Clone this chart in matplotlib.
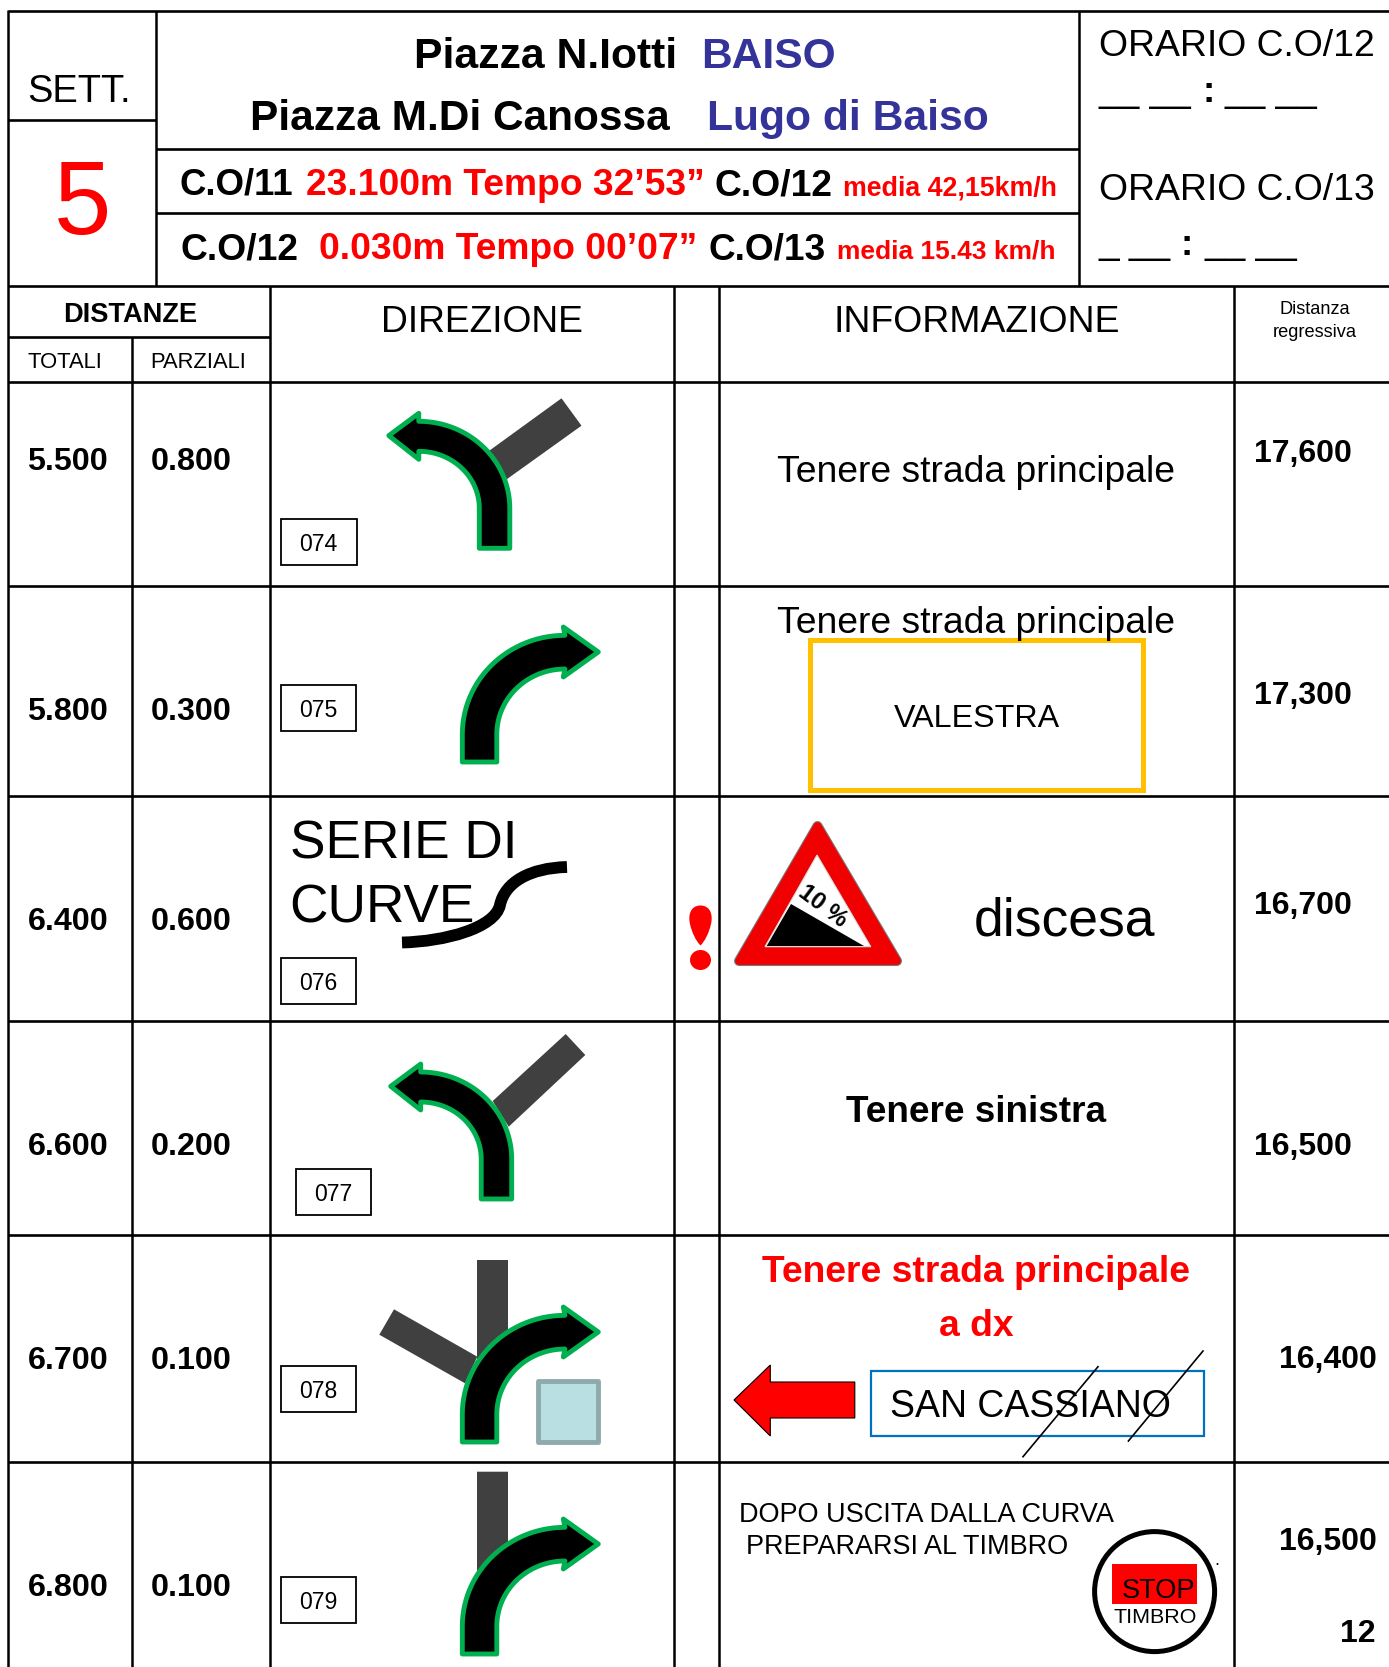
import matplotlib
matplotlib.use("Agg")
import matplotlib.pyplot as plt
from matplotlib.patches import PathPatch, Polygon, Rectangle, Ellipse
from matplotlib.path import Path
import numpy as np

plt.rcParams['font.family'] = ['Liberation Sans', 'DejaVu Sans']

# ---- content ----
totali = ["5.500", "5.800", "6.400", "6.600", "6.700", "6.800"]
parziali = ["0.800", "0.300", "0.600", "0.200", "0.100", "0.100"]
regressiva = ["17,600", "17,300", "16,700", "16,500", "16,400", "16,500"]
codici = ["074", "075", "076", "077", "078", "079"]
headers = ["DIREZIONE", "INFORMAZIONE"]
settore = "5"

# ---- page ----
W, H = 1389, 1667
fig = plt.figure(figsize=(W / 100, H / 100), dpi=100, facecolor='white')
ax = fig.add_axes([0, 0, 1, 1])
ax.set_xlim(0, W)
ax.set_ylim(H, 0)
ax.axis('off')

RED = '#FF0000'
BLUE = '#333399'
GREEN = '#00B050'
ROAD = '#404040'


def T(x, y, s, px, color='black', weight='normal', ha='left', rot=0, z=10):
    """y is the middle of the capital letters, px the font size in pixels."""
    if rot:
        return ax.text(x, y, s, fontsize=px * 0.72, color=color, fontweight=weight,
                       ha='center', va='center', rotation=rot, rotation_mode='anchor', zorder=z)
    return ax.text(x, y + 0.355 * px, s, fontsize=px * 0.72, color=color, fontweight=weight,
                   ha=ha, va='baseline', zorder=z)


def H_(y, x0=8, x1=W):
    ax.plot([x0, x1], [y, y], color='black', lw=1.9, solid_capstyle='butt', zorder=5)


def V_(x, y0, y1=H):
    ax.plot([x, x], [y0, y1], color='black', lw=1.8, solid_capstyle='butt', zorder=5)


# ---- grid ----
row_lines = [382, 586, 796, 1021, 1235, 1462]
H_(11)
H_(119.5, 8, 156)
H_(149, 156, 1079)
H_(213, 156, 1079)
H_(286)
H_(337, 8, 270)
for y in row_lines:
    H_(y)
V_(8, 10)
V_(156, 11, 286)
V_(1079, 11, 286)
V_(132, 337)
for x in [270, 674, 719, 1233.5]:
    V_(x, 286)

# ---- header ----
T(79, 89, "SETT.", 38, ha='center')
T(82.5, 197, settore, 103, color=RED, ha='center')
T(414.5, 53, "Piazza N.Iotti", 42.6, weight='bold')
T(701, 53, "BAISO", 42.5, weight='bold', color=BLUE)
T(250, 115, "Piazza M.Di Canossa", 42.4, weight='bold')
T(707, 115, "Lugo di Baiso", 42.6, weight='bold', color=BLUE)

T(179.7, 182, "C.O/11", 36.6, weight='bold')
T(306, 182, "23.100m Tempo 32’53”", 37.2, weight='bold', color=RED)
T(714, 182, "C.O/12", 37.2, weight='bold')
T(843, 186, "media 42,15km/h", 26.7, weight='bold', color=RED)
T(181, 246, "C.O/12", 37.2, weight='bold')
T(319, 246, "0.030m Tempo 00’07”", 37.2, weight='bold', color=RED)
T(708, 246, "C.O/13", 37, weight='bold')
T(837, 249, "media 15.43 km/h", 26.4, weight='bold', color=RED)

T(1099, 43, "ORARIO C.O/12", 37.4)
ax.text(1099, 102, "__ __", fontsize=37 * .72, va='baseline', zorder=10)
ax.text(1202, 102, ":", fontsize=37 * .72, fontweight='bold', va='baseline', zorder=10)
ax.text(1225, 102, "__ __", fontsize=37 * .72, va='baseline', zorder=10)
T(1099, 187, "ORARIO C.O/13", 37.4)
ax.text(1099, 254, "_ __", fontsize=37 * .72, va='baseline', zorder=10)
ax.text(1180, 255, ":", fontsize=37 * .72, fontweight='bold', va='baseline', zorder=10)
ax.text(1204, 254, "__ __", fontsize=37 * .72, va='baseline', zorder=10)

T(130, 312, "DISTANZE", 27.3, weight='bold', ha='center')
T(65, 360, "TOTALI", 22, ha='center')
T(198, 360, "PARZIALI", 22, ha='center')
T(481.5, 318.5, headers[0], 37.2, ha='center')
T(976.5, 318.5, headers[1], 37.4, ha='center')
T(1315, 308, "Distanza", 18.2, ha='center')
T(1315, 331, "regressiva", 18.3, ha='center')

# ---- distance columns ----
row_y = [459, 709, 918.7, 1144, 1357.7, 1584.7]
reg_y = [450.5, 693, 902.5, 1143.5, 1357, 1539]
reg_x = [1254, 1254, 1254, 1254, 1279, 1279]
for a, b, c, y, ry, rx in zip(totali, parziali, regressiva, row_y, reg_y, reg_x):
    T(27.5, y, a, 32.3, weight='bold')
    T(151, y, b, 32.3, weight='bold')
    T(rx, ry, c, 32, weight='bold')
T(1376, 1631, "12", 32, weight='bold', ha='right')

# ---- code boxes ----
boxes = [(281, 519), (280.5, 685), (280.5, 958), (295.7, 1169.3), (280.5, 1366), (280.5, 1577)]
for code, (bx, by) in zip(codici, boxes):
    ax.add_patch(Rectangle((bx, by), 75.7, 46, fc='white', ec='black', lw=1.3, zorder=6))
    T(bx + 37.5, by + 24, code, 23, ha='center')


# ---- road arrows ----
def arc(cx, cy, rx, ry, a0, a1, n=30):
    t = np.radians(np.linspace(a0, a1, n))
    return np.column_stack([cx + rx * np.cos(t), cy + ry * np.sin(t)])


def arrow(x0, y0, mirror=False, base=34.5, cx=102.7, start=-27.7, top_o=-126.7,
          top_i=-93, hx=101, ht=-135, tip=(136, -110), hb=-85):
    outer = arc(cx, start, cx, start - top_o, 180, 270)
    inner = arc(cx, start, cx - base, start - top_i, 270, 180)
    pts = np.vstack([[(0, 0)], outer, [(hx, ht), tip, (hx, hb)], inner, [(base, 0)]])
    if mirror:
        pts[:, 0] *= -1
    pts = pts + [x0, y0]
    ax.add_patch(Polygon(pts, closed=True, fc='black', ec=GREEN, lw=3.5, joinstyle='round', zorder=4))


LEFT = dict(mirror=True, base=30.5, cx=91, start=-40, top_o=-127, top_i=-97, hx=91,
            ht=-135, tip=(121, -112.7), hb=-89)


def road(points):
    ax.add_patch(Polygon(points, closed=True, fc=ROAD, ec='none', zorder=3))


road([(561.5, 398.3), (581.5, 425.7), (506.7, 479.3), (489.3, 450.7)])
arrow(509.8, 548.3, **LEFT)
arrow(462.3, 762)

road([(565.7, 1034), (585.3, 1055), (508.7, 1126.7), (492.7, 1101)])
arrow(511.7, 1199, **LEFT)

road([(477, 1260), (508, 1260), (508, 1340), (477, 1365)])
road([(394, 1309.3), (379.3, 1334.7), (465, 1383.3), (477.3, 1356.7)])
arrow(462.3, 1442)
ax.add_patch(Rectangle((537.5, 1380.5), 60.5, 61.5, fc='#B9DFE2', ec='#8FA9AD', lw=3.5, joinstyle='round', zorder=4))

road([(477, 1471.7), (508, 1471.7), (508, 1545), (477, 1575)])
arrow(462.3, 1654)

# ---- row 3 ----
T(289.5, 839.5, "SERIE DI", 53.2)
T(289.5, 903.5, "CURVE", 53.2)
ax.add_patch(PathPatch(Path([(402, 942.5), (445, 941.5), (495, 928), (500, 905), (505, 882), (530, 868), (567, 867)],
                            [Path.MOVETO, Path.CURVE4, Path.CURVE4, Path.CURVE4, Path.CURVE4, Path.CURVE4, Path.CURVE4]),
                       fc='none', ec='black', lw=8.5, capstyle='butt', zorder=11))

# exclamation mark
ax.add_patch(PathPatch(Path([(700.5, 905.5), (690, 905.5), (688, 916), (690, 924), (692, 933), (696, 941), (700.5, 945.5),
                             (705, 941), (709, 933), (711, 924), (713, 916), (711, 905.5), (700.5, 905.5)],
                            [Path.MOVETO] + [Path.CURVE4] * 12), fc=RED, ec='none', zorder=4))
ax.add_patch(Ellipse((700.5, 960), 21, 20, fc=RED, ec='none', zorder=4))

# warning sign
sign = [(817.5, 826), (897, 961), (739, 961)]
ax.add_patch(Polygon(sign, closed=True, fc='#F00000', ec='#777777', lw=7.2, joinstyle='round', zorder=3))
ax.add_patch(Polygon(sign, closed=True, fc='#F00000', ec='#F00000', lw=5.6, joinstyle='round', zorder=4))
ax.add_patch(Polygon([(817, 855), (870.8, 946.7), (765, 946.7)], closed=True, fc='white', ec='#DDDDDD', lw=0.8, zorder=5))
ax.add_patch(Polygon([(791, 904), (864, 946), (766.7, 946)], closed=True, fc='black', ec='none', zorder=6))
T(823, 906.5, "10 %", 24, weight='bold', rot=-37)
T(1064, 917, "discesa", 53.5, ha='center')

# ---- information column ----
T(976, 468.7, "Tenere strada principale", 37.3, ha='center')
T(976, 619.5, "Tenere strada principale", 37.3, ha='center')
ax.add_patch(Rectangle((810, 640), 333, 150, fc='none', ec='#FFC000', lw=3.6, zorder=6))
T(976.5, 715.5, "VALESTRA", 32.3, ha='center')
T(976.5, 1108.5, "Tenere sinistra", 36.9, weight='bold', ha='center')
T(976.5, 1269, "Tenere strada principale", 37.2, weight='bold', color=RED, ha='center')
T(976.5, 1323, "a dx", 37.2, weight='bold', color=RED, ha='center')

ax.add_patch(Polygon([(734, 1400), (770.3, 1365), (770.3, 1382), (854.8, 1382), (854.8, 1418),
                      (770.3, 1418), (770.3, 1436)], closed=True, fc=RED, ec='black', lw=0.8, zorder=6))
ax.add_patch(Rectangle((871, 1370.7), 333, 65, fc='none', ec='#0070C0', lw=1.6, zorder=6))
T(890.5, 1404, "SAN CASSIANO", 37.5)
ax.plot([1023, 1098], [1456.7, 1366.7], color='black', lw=1.2, zorder=11)
ax.plot([1128.4, 1203], [1441, 1351], color='black', lw=1.2, zorder=11)

T(739, 1512.5, "DOPO USCITA DALLA CURVA", 27.1)
T(746.5, 1544, "PREPARARSI AL TIMBRO", 27)
ax.add_patch(Rectangle((1112, 1564), 85, 40, fc=RED, ec='none', zorder=6))
ax.add_patch(Ellipse((1154.6, 1591.6), 120, 120, fc='none', ec='black', lw=3.6, zorder=7))
T(1159, 1588.5, "STOP", 27.2, ha='center')
T(1155, 1615, "TIMBRO", 21.5, ha='center')
ax.add_patch(Ellipse((1217.5, 1564), 2, 2, fc='black', ec='none', zorder=7))

fig.savefig('out.png', dpi=100, facecolor='white')
